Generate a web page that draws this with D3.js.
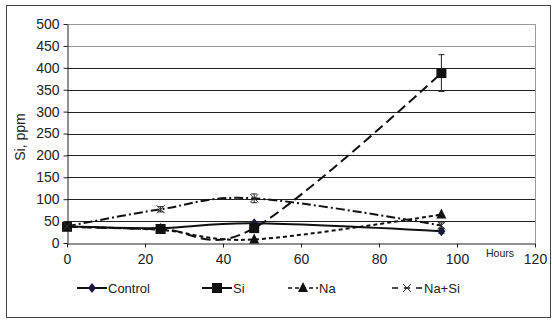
<!DOCTYPE html>
<meta charset="utf-8">
<style>
body { margin: 0; background: #fff; }
text { font-family: "Liberation Sans", Arial, sans-serif; fill: #222; }
</style>
<body>
<script src="https://d3js.org/d3.v7.min.js"></script>
<script>
// data
var hours = [0, 24, 48, 96];
var control = [38, 34, 45, 27];
var si = [37, 32, 34, 388];
var na = [37, 30, 8, 65];
var naSi = [38, 77, 102, 40];
var siErr = [0, 0, 0, 42];
var naSiErr = [0, 6, 10, 6];
var controlErr = [0, 0, 0, 5];
var yTicks = [0, 50, 100, 150, 200, 250, 300, 350, 400, 450, 500];
var xTicks = [0, 20, 40, 60, 80, 100, 120];

var svg = d3.select("body").append("svg")
    .attr("width", 552)
    .attr("height", 321);

// outer frame
svg.append("rect")
    .attr("x", 6.5).attr("y", 5.5)
    .attr("width", 544).attr("height", 312)
    .attr("fill", "none").attr("stroke", "#444");

var x = d3.scaleLinear().domain([0, 120]).range([67, 535]);
var y = d3.scaleLinear().domain([0, 500]).range([243, 24]);

// gridlines
svg.append("g").selectAll("line").data(yTicks.slice(1)).join("line")
    .attr("x1", x(0)).attr("x2", x(120))
    .attr("y1", d => Math.round(y(d)) + 0.5).attr("y2", d => Math.round(y(d)) + 0.5)
    .attr("stroke", d => d >= 450 ? "#999" : "#222");

// right border of plot
svg.append("line")
    .attr("x1", x(120) + 0.5).attr("x2", x(120) + 0.5)
    .attr("y1", y(500)).attr("y2", y(0))
    .attr("stroke", "#999");

// axes
var yAxis = svg.append("g")
    .attr("transform", "translate(" + (x(0) + 0.5) + ",0)")
    .call(d3.axisLeft(y).tickValues(yTicks).tickSize(4).tickSizeOuter(0));
var xAxis = svg.append("g")
    .attr("transform", "translate(0," + (Math.round(y(0)) + 0.5) + ")")
    .call(d3.axisBottom(x).tickValues(xTicks).tickSize(4).tickSizeOuter(0));
[yAxis, xAxis].forEach(function(a) {
  a.selectAll("path, line").attr("stroke", "#222");
  a.selectAll("text").style("font-size", "14px").attr("fill", "#222");
});
yAxis.selectAll("text").attr("dx", "-1");
xAxis.selectAll("text").attr("dy", "0.95em");

svg.append("text")
    .attr("transform", "translate(25,137) rotate(-90)")
    .attr("text-anchor", "middle")
    .style("font-size", "14px")
    .text("Si, ppm");

svg.append("text")
    .attr("x", 500).attr("y", 257)
    .attr("text-anchor", "middle")
    .style("font-size", "10.5px")
    .text("Hours");

var series = [
  {name: "Control", vals: control, err: controlErr, dash: null, mark: "diamond", leg: null},
  {name: "Si", vals: si, err: siErr, dash: "10,5", mark: "square", leg: null},
  {name: "Na", vals: na, err: [0,0,0,0], dash: "4,3", mark: "triangle", leg: "4,3"},
  {name: "Na+Si", vals: naSi, err: naSiErr, dash: "9,3,2,3", mark: "x", leg: "6,6"}
];

var line = d3.line()
    .x(d => x(d[0])).y(d => y(d[1]))
    .curve(d3.curveCatmullRom.alpha(0));

function marker(g, type, cx, cy) {
  if (type === "diamond") {
    g.append("path").attr("d", "M" + cx + "," + (cy - 5) + "L" + (cx + 4) + "," + cy + "L" + cx + "," + (cy + 5) + "L" + (cx - 4) + "," + cy + "Z")
      .attr("fill", "#1a1a40");
  } else if (type === "square") {
    g.append("rect").attr("x", cx - 5).attr("y", cy - 5).attr("width", 10).attr("height", 10).attr("fill", "#111");
  } else if (type === "triangle") {
    g.append("path").attr("d", "M" + cx + "," + (cy - 6) + "L" + (cx + 5) + "," + (cy + 4) + "L" + (cx - 5) + "," + (cy + 4) + "Z")
      .attr("fill", "#111");
  } else {
    g.append("path").attr("d", "M" + (cx - 4) + "," + (cy - 4) + "L" + (cx + 4) + "," + (cy + 4) + "M" + (cx + 4) + "," + (cy - 4) + "L" + (cx - 4) + "," + (cy + 4))
      .attr("stroke", "#333").attr("stroke-width", 1);
  }
}

series.forEach(function(s) {
  var pts = hours.map((h, i) => [h, s.vals[i]]);
  svg.append("path")
      .attr("d", line(pts))
      .attr("fill", "none")
      .attr("stroke", "#111")
      .attr("stroke-width", 2)
      .attr("stroke-dasharray", s.dash);
  var g = svg.append("g");
  pts.forEach(function(p, i) {
    var e = s.err[i];
    if (e > 0) {
      var cx = x(p[0]);
      g.append("path")
        .attr("d", "M" + cx + "," + y(p[1] - e) + "V" + y(p[1] + e) +
                   "M" + (cx - 3) + "," + y(p[1] - e) + "H" + (cx + 3) +
                   "M" + (cx - 3) + "," + y(p[1] + e) + "H" + (cx + 3))
        .attr("stroke", "#222").attr("fill", "none");
    }
    marker(g, s.mark, x(p[0]), y(p[1]));
  });
});

// legend
var legX = [77, 202, 288, 392];
series.forEach(function(s, i) {
  var g = svg.append("g").attr("transform", "translate(" + legX[i] + ",288)");
  g.append("line").attr("x1", 0).attr("x2", 30).attr("y1", 0).attr("y2", 0)
    .attr("stroke", "#111").attr("stroke-width", s.leg ? 1.5 : 2)
    .attr("stroke-dasharray", s.leg);
  marker(g, s.mark, 15, 0);
  g.append("text").attr("x", s.mark === "x" ? 32 : 31).attr("y", 5)
    .style("font-size", "13px").text(s.name);
});
</script>
</body>
